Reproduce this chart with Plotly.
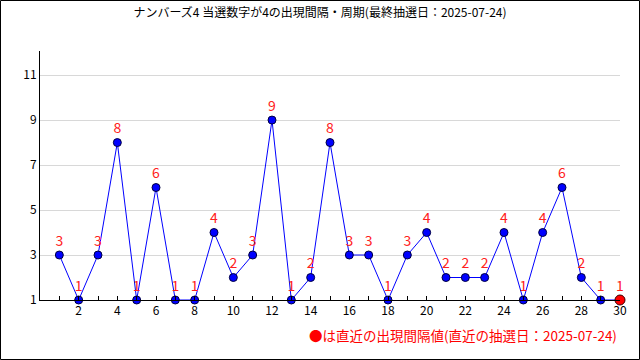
import plotly.graph_objects as go

draws = list(range(1, 31))
intervals = [3, 1, 3, 8, 1, 6, 1, 1, 4, 2, 3, 9, 1, 2, 8, 3, 3, 1, 3, 4, 2, 2, 2, 4, 1, 4, 6, 2, 1, 1]
x_tickvals = list(range(2, 31, 2))
y_tickvals = [1, 3, 5, 7, 9, 11]
title_text = "ナンバーズ4 当選数字が4の出現間隔・周期(最終抽選日：2025-07-24)"
note_text = "●は直近の出現間隔値(直近の抽選日：2025-07-24)"

FONT = "Noto Sans CJK JP"

fig = go.Figure()
fig.add_trace(go.Scatter(
    x=draws, y=intervals,
    mode="lines+markers+text",
    text=[str(v) for v in intervals],
    textposition="top center",
    textfont=dict(color="#ff2020", size=14, family=FONT),
    line=dict(color="#0000ff", width=1),
    marker=dict(size=8, color="#0000ff", line=dict(color="#000040", width=1)),
    cliponaxis=False,
    showlegend=False,
    hoverinfo="skip",
))
fig.add_trace(go.Scatter(
    x=[draws[-1]], y=[intervals[-1]],
    mode="markers",
    marker=dict(size=10, color="#ff0000", line=dict(color="#400000", width=1)),
    cliponaxis=False,
    showlegend=False,
    hoverinfo="skip",
))

fig.update_layout(
    width=640, height=360,
    margin=dict(l=40, r=20, t=51, b=60),
    paper_bgcolor="white", plot_bgcolor="white",
    font=dict(family=FONT, size=12, color="black"),
    title=dict(text=title_text, x=0.5, xanchor="center", y=0.965, yanchor="middle",
               font=dict(size=12, family=FONT, color="black")),
    xaxis=dict(range=[0, 30], tickvals=x_tickvals, showgrid=False, zeroline=False,
               showline=True, linecolor="black", linewidth=1,
               ticks="inside", ticklen=4, tickcolor="black",
               minor=dict(dtick=1, tick0=0, ticks="inside", ticklen=4, tickcolor="black", showgrid=False),
               tickfont=dict(size=12, family=FONT)),
    yaxis=dict(range=[1, 12.07], tickvals=y_tickvals, showgrid=True, gridcolor="#d8d8d8",
               zeroline=False, showline=True, linecolor="black", linewidth=1,
               ticks="", tickfont=dict(size=12, family=FONT)),
    annotations=[dict(text=note_text, xref="paper", yref="paper",
                      x=(619 - 40) / 580, y=(300 - 335) / 249, xanchor="right", yanchor="middle",
                      showarrow=False, font=dict(color="#ff0000", size=13.5, family=FONT))],
    shapes=[dict(type="rect", xref="paper", yref="paper",
                 x0=(0.5 - 40) / 580, x1=(639.5 - 40) / 580,
                 y0=(300 - 359.5) / 249, y1=(300 - 0.5) / 249,
                 line=dict(color="black", width=1), fillcolor="rgba(0,0,0,0)", layer="below")],
)

fig.write_html("out.html", config={"displayModeBar": False, "staticPlot": True},
               post_script="document.body.style.margin='0px';document.body.style.overflow='hidden';")
